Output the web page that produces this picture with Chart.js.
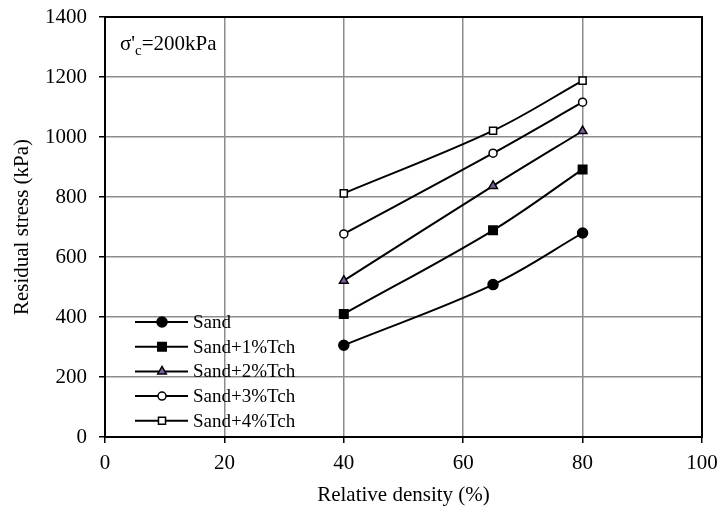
<!doctype html>
<html lang="en">
  <head>
    <meta charset="UTF-8" />
    <title>Residual stress vs relative density</title>
    <script src="https://cdn.jsdelivr.net/npm/chart.js"></script>
    <style>
      body {
        margin: 0;
        padding: 0;
        background: #fff;
      }
      #wrap {
        width: 718px;
        height: 508px;
      }
    </style>
  </head>
  <body>
    <div id="wrap"><canvas id="stressChart"></canvas></div>

    <script>
      const density = [40, 65, 80];
      const sand = [306, 508, 680];
      const sand1 = [410, 689, 892];
      const sand2 = [521, 837, 1020];
      const sand3 = [677, 946, 1116];
      const sand4 = [812, 1021, 1188];
      const seriesNames = ["Sand", "Sand+1%Tch", "Sand+2%Tch", "Sand+3%Tch", "Sand+4%Tch"];
      const xTicks = [0, 20, 40, 60, 80, 100];
      const yTicks = [0, 200, 400, 600, 800, 1000, 1200, 1400];

      const FONT = "'Liberation Serif', 'Times New Roman', serif";

      const styles = [
        { pointStyle: "circle", radius: 5, fill: "#000" },
        { pointStyle: "rect", radius: 6, fill: "#000" },
        { pointStyle: "triangle", radius: 5, fill: "#7a5fa0" },
        { pointStyle: "circle", radius: 4, fill: "#fff" },
        { pointStyle: "rect", radius: 5, fill: "#fff" },
      ];

      const values = [sand, sand1, sand2, sand3, sand4];
      const datasets = values.map((vals, i) => ({
        label: seriesNames[i],
        data: density.map((d, j) => ({ x: d, y: vals[j] })),
        showLine: true,
        borderColor: "#000",
        borderWidth: 2,
        tension: 0.35,
        pointStyle: styles[i].pointStyle,
        pointRadius: styles[i].radius,
        pointBackgroundColor: styles[i].fill,
        pointBorderColor: "#000",
        pointBorderWidth: 1.5,
      }));

      // frame, annotation and legend inside the plot
      const extras = {
        id: "extras",
        afterDraw(chart) {
          const { ctx, chartArea: a } = chart;
          ctx.save();
          ctx.strokeStyle = "#000";
          ctx.lineWidth = 2;
          ctx.strokeRect(a.left, a.top, a.right - a.left, a.bottom - a.top);

          ctx.fillStyle = "#000";
          ctx.textBaseline = "alphabetic";
          ctx.font = "21px " + FONT;
          let tx = a.left + 15;
          const ty = a.top + 33;
          ctx.fillText("σ'", tx, ty);
          tx += ctx.measureText("σ'").width;
          ctx.font = "15px " + FONT;
          ctx.fillText("c", tx, ty + 5);
          tx += ctx.measureText("c").width;
          ctx.font = "21px " + FONT;
          ctx.fillText("=200kPa", tx, ty);

          // legend
          const lx = a.left + 30;
          let ly = a.top + 305;
          ctx.font = "19px " + FONT;
          ctx.textBaseline = "middle";
          chart.data.datasets.forEach((ds, i) => {
            ctx.strokeStyle = "#000";
            ctx.lineWidth = 2;
            ctx.beginPath();
            ctx.moveTo(lx, ly);
            ctx.lineTo(lx + 53, ly);
            ctx.stroke();
            ctx.fillStyle = styles[i].fill;
            ctx.lineWidth = 1.5;
            Chart.helpers.drawPoint(ctx, {
              pointStyle: styles[i].pointStyle,
              radius: styles[i].radius,
              rotation: 0,
              borderWidth: 1.5,
            }, lx + 27, ly);
            ctx.fillStyle = "#000";
            ctx.fillText(ds.label, lx + 58, ly + 1);
            ly += 24.7;
          });
          ctx.restore();
        },
      };

      new Chart(document.getElementById("stressChart"), {
        type: "scatter",
        data: { datasets },
        plugins: [extras],
        options: {
          responsive: true,
          maintainAspectRatio: false,
          animation: false,
          layout: { padding: { top: 17, right: 16, left: 0, bottom: 0 } },
          plugins: {
            legend: { display: false },
            tooltip: { enabled: false },
          },
          scales: {
            x: {
              type: "linear",
              min: 0,
              max: 100,
              afterBuildTicks: (s) => {
                s.ticks = xTicks.map((v) => ({ value: v }));
              },
              afterFit: (s) => {
                s.height = 71;
                s.paddingLeft = 0;
                s.paddingRight = 0;
              },
              ticks: {
                color: "#000",
                font: { family: FONT, size: 21 },
                padding: 8,
                maxRotation: 0,
                callback: (v) => String(v),
              },
              grid: {
                color: "#8c8c8c",
                lineWidth: 1.5,
                tickColor: "#000",
                tickLength: 6,
              },
              border: { color: "#000", width: 2 },
              title: {
                display: true,
                text: "Relative density (%)",
                color: "#000",
                font: { family: FONT, size: 21 },
                padding: { top: 0, bottom: 0 },
              },
            },
            y: {
              min: 0,
              max: 1400,
              afterBuildTicks: (s) => {
                s.ticks = yTicks.map((v) => ({ value: v }));
              },
              afterFit: (s) => {
                s.width = 105;
                s.paddingTop = 0;
                s.paddingBottom = 0;
              },
              ticks: {
                color: "#000",
                font: { family: FONT, size: 21 },
                padding: 12,
                callback: (v) => String(v),
              },
              grid: {
                color: "#8c8c8c",
                lineWidth: 1.5,
                tickColor: "#000",
                tickLength: 6,
              },
              border: { color: "#000", width: 2 },
              title: {
                display: true,
                text: "Residual stress (kPa)",
                color: "#000",
                font: { family: FONT, size: 21 },
                padding: { top: 10, bottom: 0 },
              },
            },
          },
        },
      });
    </script>
  </body>
</html>
